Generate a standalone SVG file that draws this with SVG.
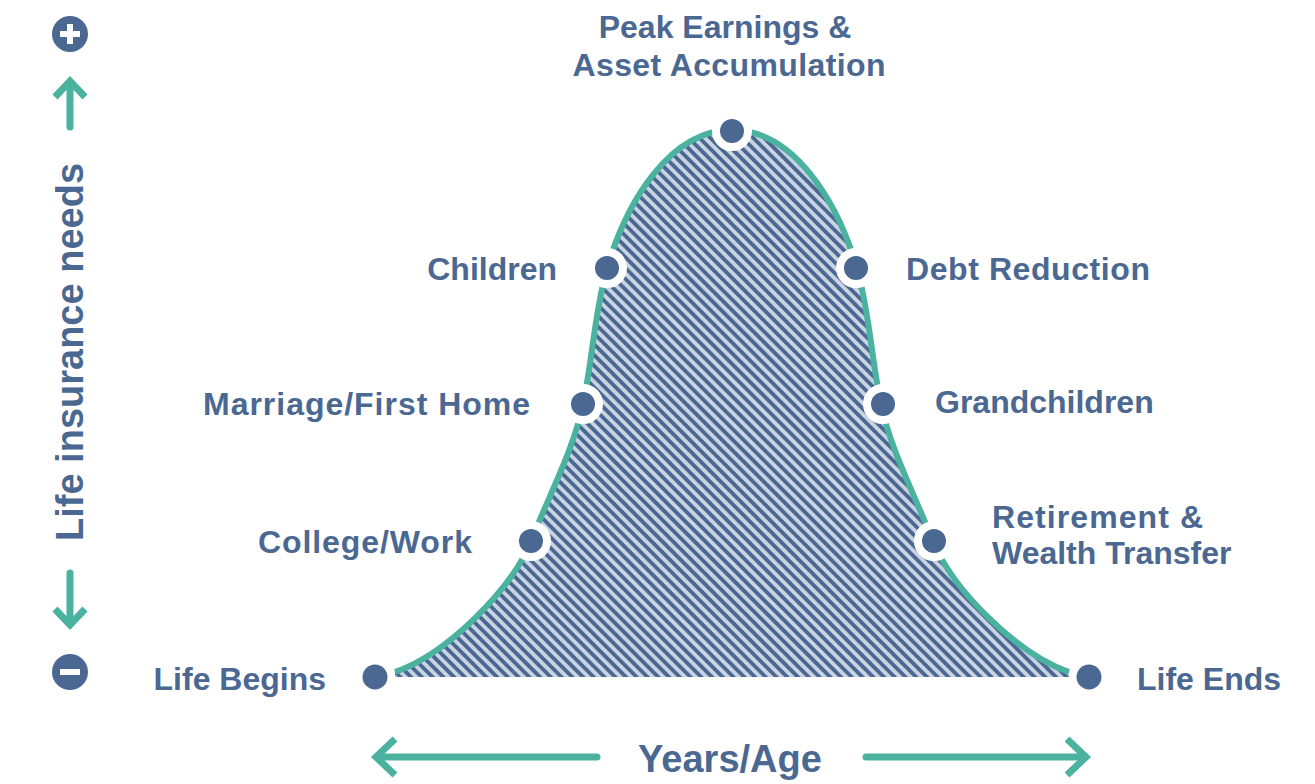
<svg xmlns="http://www.w3.org/2000/svg" width="1315" height="784" viewBox="0 0 1315 784">
<style>
.lbl{font-family:"Liberation Sans",Arial,sans-serif;font-weight:bold;font-size:32px;fill:#4b6892}
.big{font-size:38px}
.arr{fill:none;stroke:#4cb2a0;stroke-width:7}
.dot{fill:#4b6892;stroke:#fff;stroke-width:8}
</style>
<defs>
<pattern id="hatch" width="7.6" height="7.6" patternUnits="userSpaceOnUse" patternTransform="rotate(-45)">
<rect width="7.6" height="7.6" fill="#c9d3e2"/>
<rect width="3.8" height="7.6" fill="#4b6892"/>
</pattern>
</defs>
<rect width="1315" height="784" fill="#fff"/>
<g id="area">
<path d="M 395 672 C 445 655, 511 591, 531 541 C 551 491, 573 451, 583 404 C 593 357, 594 315, 607 268 C 627 201, 670 130, 732 130 C 794 130, 837 201, 857 268 C 870 315, 871 357, 881 404 C 891 451, 913 491, 933 541 C 953 591, 1019 655, 1069 672 L 1069 677 L 395 677 Z" fill="url(#hatch)"/>
<path d="M 395 672 C 445 655, 511 591, 531 541 C 551 491, 573 451, 583 404 C 593 357, 594 315, 607 268 C 627 201, 670 130, 732 130 C 794 130, 837 201, 857 268 C 870 315, 871 357, 881 404 C 891 451, 913 491, 933 541 C 953 591, 1019 655, 1069 672" fill="none" stroke="#4cb2a0" stroke-width="6"/>
</g>
<g id="axes">
<g id="plus"><circle cx="70" cy="34" r="18" fill="#4b6892"/><path d="M 60 34 H 80 M 70 24 V 44" stroke="#fff" stroke-width="6"/></g>
<g id="minus"><circle cx="70" cy="672" r="18" fill="#4b6892"/><path d="M 60 672 H 80" stroke="#fff" stroke-width="6"/></g>
<path class="arr" d="M 70 127 V 82" stroke-linecap="round"/>
<path class="arr" d="M 55 97 L 70 81 L 85 97"/>
<path class="arr" d="M 70 573 V 624" stroke-linecap="round"/>
<path class="arr" d="M 55 609 L 70 625 L 85 609"/>
<path class="arr" d="M 597 757 H 377" stroke-linecap="round"/>
<path class="arr" d="M 395 739 L 376 757 L 395 775"/>
<path class="arr" d="M 866 757 H 1084" stroke-linecap="round"/>
<path class="arr" d="M 1067 739 L 1086 757 L 1067 775"/>
<text class="lbl big" transform="translate(83,352) rotate(-90)" text-anchor="middle">Life insurance needs</text>
<text class="lbl big" x="730" y="772" text-anchor="middle">Years/Age</text>
</g>
<g id="peak"><circle class="dot" cx="732" cy="131" r="16"/><text class="lbl" x="725" y="38" text-anchor="middle">Peak Earnings &amp;</text><text class="lbl" x="729" y="76" text-anchor="middle" textLength="313" lengthAdjust="spacing">Asset Accumulation</text></g>
<g id="children"><circle class="dot" cx="607" cy="268" r="16"/><text class="lbl" x="557" y="280" text-anchor="end">Children</text></g>
<g id="debt"><circle class="dot" cx="856" cy="268" r="16"/><text class="lbl" x="906" y="280" textLength="244" lengthAdjust="spacing">Debt Reduction</text></g>
<g id="marriage"><circle class="dot" cx="583" cy="404" r="16"/><text class="lbl" x="203" y="415" textLength="327" lengthAdjust="spacing">Marriage/First Home</text></g>
<g id="grandchildren"><circle class="dot" cx="883" cy="404" r="16"/><text class="lbl" x="935" y="413">Grandchildren</text></g>
<g id="college"><circle class="dot" cx="531" cy="541" r="16"/><text class="lbl" x="258" y="553" textLength="214" lengthAdjust="spacing">College/Work</text></g>
<g id="retirement"><circle class="dot" cx="934" cy="541" r="16"/><text class="lbl" x="992" y="528" textLength="211" lengthAdjust="spacing">Retirement &amp;</text><text class="lbl" x="992" y="564">Wealth Transfer</text></g>
<g id="begins"><circle cx="375" cy="677" r="12.5" fill="#4b6892"/><text class="lbl" x="326" y="690" text-anchor="end">Life Begins</text></g>
<g id="ends"><circle cx="1089" cy="677" r="12.5" fill="#4b6892"/><text class="lbl" x="1137" y="690">Life Ends</text></g>
</svg>
